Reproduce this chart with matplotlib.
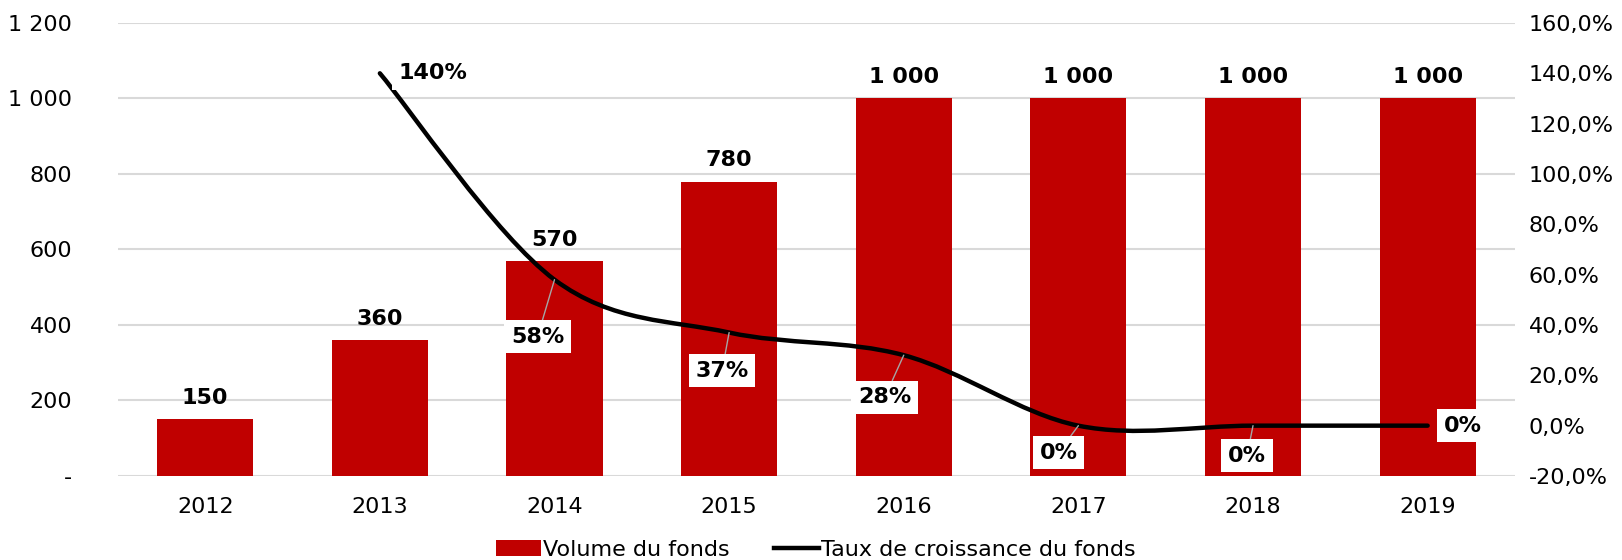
import numpy as np
import matplotlib.pyplot as plt
from matplotlib.path import Path
from matplotlib.patches import PathPatch, Patch
from matplotlib.lines import Line2D

# Données
years = ['2012', '2013', '2014', '2015', '2016', '2017', '2018', '2019']
volume = [150, 360, 570, 780, 1000, 1000, 1000, 1000]
bar_labels = ['150', '360', '570', '780', '1 000', '1 000', '1 000', '1 000']
growth = [np.nan, 140, 58, 37, 28, 0, 0, 0]
growth_labels = ['', '140%', '58%', '37%', '28%', '0%', '0%', '0%']
left_ticks = [0, 200, 400, 600, 800, 1000, 1200]
left_tick_labels = ['-', '200', '400', '600', '800', '1 000', '1 200']
right_ticks = [-20, 0, 20, 40, 60, 80, 100, 120, 140, 160]
right_tick_labels = ['-20,0%', '0,0%', '20,0%', '40,0%', '60,0%', '80,0%',
                     '100,0%', '120,0%', '140,0%', '160,0%']

# Décalages des étiquettes de la courbe (pixels)
label_offsets = [None, (19, 0), (-17, -57), (-7, -38), (-19, -42),
                 (-20, -27), (-6, -30), (16, 0)]

RED = '#C00000'
GRID = '#d9d9d9'
FS = 16

plt.rcParams['font.family'] = ['DejaVu Sans']

fig = plt.figure(figsize=(16.22, 5.6), dpi=100)
ax = fig.add_axes([0.0727, 0.15, 0.934 - 0.0727, 0.959 - 0.15])
ax2 = ax.twinx()

x = np.arange(len(years))
bars = ax.bar(x, volume, width=0.55, color=RED, zorder=2)
for xi, v, lab in zip(x, volume, bar_labels):
    ax.annotate(lab, (xi, v), xytext=(0, 8), textcoords='offset points',
                ha='center', va='bottom', fontsize=FS, fontweight='bold')

ax.set_xlim(-0.5, len(years) - 0.5)
ax.set_ylim(0, 1200)
ax.set_yticks(left_ticks)
ax.set_yticklabels(left_tick_labels)
ax.set_xticks(x)
ax.set_xticklabels(years)
ax.yaxis.grid(True, color=GRID, linewidth=1.5, zorder=0)
ax.set_axisbelow(True)
ax.tick_params(axis='y', length=0, pad=33, labelsize=FS)
ax.tick_params(axis='x', length=0, pad=15, labelsize=FS)
for s in ax.spines.values():
    s.set_visible(False)

ax2.set_ylim(-20, 160)
ax2.set_yticks(right_ticks)
ax2.set_yticklabels(right_tick_labels)
ax2.tick_params(axis='y', length=0, pad=10, labelsize=FS)
for s in ax2.spines.values():
    s.set_visible(False)

# Courbe lissée (style Excel, Bézier de type Catmull-Rom)
pts = np.array([(xi, g) for xi, g in zip(x, growth) if not np.isnan(g)], float)
n = len(pts)
verts = [tuple(pts[0])]
codes = [Path.MOVETO]
for i in range(n - 1):
    p0 = pts[max(i - 1, 0)]
    p1 = pts[i]
    p2 = pts[i + 1]
    p3 = pts[min(i + 2, n - 1)]
    c1 = p1 + (p2 - p0) / 6
    c2 = p2 - (p3 - p1) / 6
    verts += [tuple(c1), tuple(c2), tuple(p2)]
    codes += [Path.CURVE4] * 3
curve = PathPatch(Path(verts, codes), facecolor='none', edgecolor='black',
                  linewidth=3.2, capstyle='round', zorder=3)
ax2.add_patch(curve)

for xi, g, lab, off in zip(x, growth, growth_labels, label_offsets):
    if np.isnan(g):
        continue
    side = off[1] == 0 and off[0] > 0
    arrow = None if side else dict(arrowstyle='-', color='#a6a6a6', lw=1,
                                   shrinkA=0, shrinkB=0)
    ax2.annotate(lab, (xi, g), xytext=off, textcoords='offset pixels',
                 ha='left' if side else 'center', va='center', fontsize=FS,
                 fontweight='bold', zorder=4,
                 bbox=dict(boxstyle='square,pad=0.3', fc='white', ec='none'),
                 arrowprops=arrow)

handles = [Patch(facecolor=RED, edgecolor='none'),
           Line2D([0], [0], color='black', linewidth=3.2)]
fig.legend(handles, ['Volume du fonds', 'Taux de croissance du fonds'],
           loc='lower center', bbox_to_anchor=(0.503, -0.035), ncol=2,
           frameon=False, fontsize=FS, handlelength=2.0, handletextpad=0.1,
           columnspacing=2.0)

fig.savefig('out.png', dpi=100)
